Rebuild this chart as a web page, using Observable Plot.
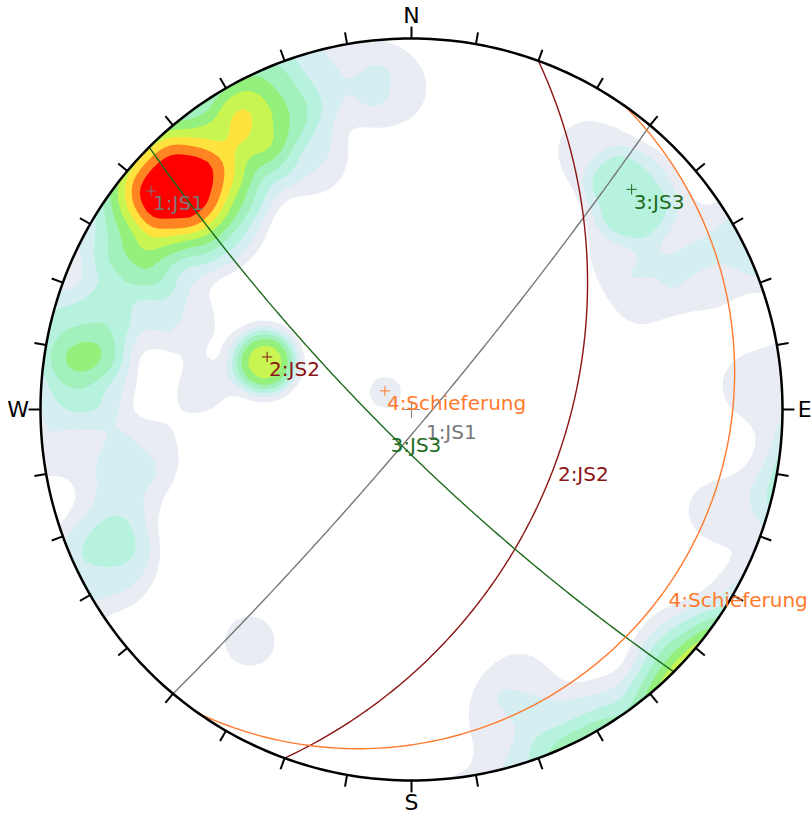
<!DOCTYPE html>
<html>
<head>
<meta charset="utf-8">
<script src="https://cdn.jsdelivr.net/npm/d3@7"></script>
<script src="https://cdn.jsdelivr.net/npm/@observablehq/plot@0.6"></script>
<style>
  body { margin: 0; background: #fff; }
  svg { display: block; }
</style>
</head>
<body>
<div id="chart"></div>
<script>
// Mean planes of the discontinuity sets (dip direction / dip, degrees)
const setNames = ["1:JS1", "2:JS2", "3:JS3", "4:Schieferung"];
const setDipDirection = [130, 110, 225, 125];
const setDip = [85, 45, 80, 10];
const setColors = ["#787878", "#8b1414", "#1d6b1d", "#ff7a2e"];

// Pole measurements (trend / plunge, degrees) and how many share each orientation
const poleTrend = [
  313.3, 319.4, 316.3, 310.3, 307.2, 310.3, 316.3, 313.3,
  324.7, 325.2, 322.6, 317.5, 309.2, 304.0, 301.4, 301.9, 313.3,
  328.3, 334.6, 340.3, 326.9, 298.6, 337.6, 338.5, 350.5, 357.1,
  282.8, 275.5, 280.0, 291.9, 290.8, 293.8, 275.1,
  288.0, 288.0, 288.0, 285.2, 290.8,
  243.4, 248.3, 255.8, 261.1, 264.8,
  45.4, 33.9, 57.9, 64.6, 53.0, 66.0,
  86.0, 108.4,
  214.9, 158.1, 303.2, 154.0, 148.2, 164.0, 132.0
];
const polePlunge = [
  7.7, 7.7, 12.9, 12.9, 7.7, 2.5, 2.5, 1.0,
  3.6, 9.8, 15.4, 19.0, 19.0, 15.4, 9.8, 3.6, 21.0,
  8.5, 6.1, 4.3, 14.9, 6.4, 13.8, 19.5, 6.5, 8.6,
  6.0, 8.0, 3.0, 24.6, 16.1, 10.8, 30.5,
  45.0, 47.0, 43.0, 45.0, 45.0,
  5.5, 8.7, 14.0, 19.1, 7.0,
  11.2, 9.9, 8.9, 21.3, 20.9, 8.0,
  5.0, 8.4,
  15.6, 13.6, 80.4, 0.5, 0.5, 7.8, 1.5
];
const poleCount = [
  3, 1, 1, 1, 1, 1, 1, 1,
  1, 1, 1, 1, 1, 1, 1, 1, 1,
  1, 2, 1, 1, 1, 1, 1, 1, 1,
  2, 2, 1, 1, 1, 1, 1,
  2, 1, 1, 1, 1,
  2, 1, 1, 1, 1,
  3, 1, 1, 1, 1, 1,
  1, 1,
  1, 1, 1, 1, 1, 1, 1
];

// Density contour levels and fills
const densityLevels = [0.9, 1.8, 2.7, 3.6, 4.5, 5.4, 6.3, 7.2, 8.1];
const densityColors = ["#e9edf3", "#d4eef1", "#b6f2de", "#a2f0bc", "#94f07c", "#c9f552", "#ffe23e", "#ff8422", "#ff0000"];
const countingRadius = 8;     // degrees
const countingFalloff = 1.4;  // degrees

// Compass labels and tick marks
const compassLabels = ["N", "E", "S", "W"];
const compassAzimuths = [0, 90, 180, 270];
const tickAzimuths = [0, 10, 20, 30, 40, 50, 60, 70, 80, 90, 100, 110, 120, 130, 140, 150, 160, 170,
                      180, 190, 200, 210, 220, 230, 240, 250, 260, 270, 280, 290, 300, 310, 320, 330, 340, 350];

const rad = Math.PI / 180;

// Lower-hemisphere equal-angle (stereographic) projection, unit primitive circle
function project(trend, plunge) {
  const r = Math.tan((90 - plunge) * rad / 2);
  return [r * Math.sin(trend * rad), r * Math.cos(trend * rad)];
}
function unitVector(trend, plunge) {
  const c = Math.cos(plunge * rad);
  return [c * Math.sin(trend * rad), c * Math.cos(trend * rad), Math.sin(plunge * rad)];
}

// Great circles traced through each plane, from one strike end to the other
const greatCircles = setNames.map((name, i) => {
  const s = unitVector(setDipDirection[i] - 90, 0);
  const d = unitVector(setDipDirection[i], setDip[i]);
  return d3.range(0, 180.5, 1).map(t => {
    const c = Math.cos(t * rad), sn = Math.sin(t * rad);
    const v = [c * s[0] + sn * d[0], c * s[1] + sn * d[1], c * s[2] + sn * d[2]];
    const plunge = Math.asin(Math.max(-1, Math.min(1, v[2]))) / rad;
    const trend = Math.atan2(v[0], v[1]) / rad;
    const [x, y] = project(trend, plunge);
    return {name, x, y};
  });
});
const setPoles = setNames.map((name, i) => {
  const [x, y] = project(setDipDirection[i] + 180, 90 - setDip[i]);
  return {name, x, y};
});
const setDipPoints = setNames.map((name, i) => {
  const [x, y] = project(setDipDirection[i], setDip[i]);
  return {name, x, y};
});

// Smoothed counting-cone density of the poles (axial), sampled on the projection plane
const poleVectors = poleTrend.map((t, i) => unitVector(t, polePlunge[i]));
function poleDensity(x, y) {
  const r = Math.hypot(x, y);
  const plunge = 90 - 2 * Math.atan(r) / rad;
  const trend = Math.atan2(x, y) / rad;
  const v = unitVector(trend, plunge);
  let sum = 0;
  for (let i = 0; i < poleVectors.length; ++i) {
    const p = poleVectors[i];
    const c = Math.min(1, Math.abs(v[0] * p[0] + v[1] * p[1] + v[2] * p[2]));
    const angle = Math.acos(c) / rad;
    sum += poleCount[i] / (1 + Math.exp((angle - countingRadius) / countingFalloff));
  }
  return sum;
}

const circleAngles = d3.range(0, 360.5, 1);
const font = "DejaVu Sans, Verdana, sans-serif";

const plot = Plot.plot({
  width: 812,
  height: 821,
  marginLeft: 40,
  marginRight: 30,
  marginTop: 38,
  marginBottom: 41,
  x: {domain: [-1, 1], axis: null},
  y: {domain: [-1, 1], axis: null},
  color: {type: "threshold", domain: densityLevels, range: ["#ffffff", ...densityColors]},
  style: {fontFamily: font, background: "#ffffff"},
  marks: [
    Plot.contour({
      fill: poleDensity,
      x1: -1.03, y1: -1.03, x2: 1.03, y2: 1.03,
      thresholds: densityLevels,
      pixelSize: 6,
      stroke: "none"
    }),
    ...greatCircles.map((pts, i) =>
      Plot.line(pts, {x: "x", y: "y", stroke: setColors[i], strokeWidth: 1.4})
    ),
    Plot.line(circleAngles, {
      x: a => Math.sin(a * rad), y: a => Math.cos(a * rad),
      stroke: "#000", strokeWidth: 2.5
    }),
    Plot.link(tickAzimuths, {
      x1: a => Math.sin(a * rad), y1: a => Math.cos(a * rad),
      x2: a => 1.032 * Math.sin(a * rad), y2: a => 1.032 * Math.cos(a * rad),
      stroke: "#000", strokeWidth: 2
    }),
    Plot.text(compassLabels, {
      x: (d, i) => 1.06 * Math.sin(compassAzimuths[i] * rad),
      y: (d, i) => 1.06 * Math.cos(compassAzimuths[i] * rad),
      text: d => d, fontSize: 22, fill: "#000"
    }),
    Plot.dot([null], {frameAnchor: "middle", symbol: "plus", r: 5.5, stroke: "#8a8a8a", strokeWidth: 1.2}),
    ...setPoles.map((p, i) =>
      Plot.dot([p], {x: "x", y: "y", symbol: "plus", r: 3.4, stroke: setColors[i], strokeWidth: 1})
    ),
    ...setPoles.map((p, i) =>
      Plot.text([p], {x: "x", y: "y", text: "name", fill: setColors[i], fontSize: 20,
                      textAnchor: "start", dx: 2, dy: 13})
    ),
    ...setDipPoints.map((p, i) =>
      Plot.text([p], {x: "x", y: "y", text: "name", fill: setColors[i], fontSize: 20,
                      textAnchor: "start", dx: 2, dy: 13})
    )
  ]
});

// Keep the density fill inside the primitive circle
const sx = plot.scale("x"), sy = plot.scale("y");
const cx = sx.apply(0), cy = sy.apply(0), radius = sx.apply(1) - cx;
const svg = d3.select(plot);
svg.insert("defs", ":first-child")
  .append("clipPath").attr("id", "primitive-clip")
  .append("circle").attr("cx", cx).attr("cy", cy).attr("r", radius);
svg.selectAll('g[aria-label="contour"]').attr("clip-path", "url(#primitive-clip)");

document.getElementById("chart").appendChild(plot);
</script>
</body>
</html>
